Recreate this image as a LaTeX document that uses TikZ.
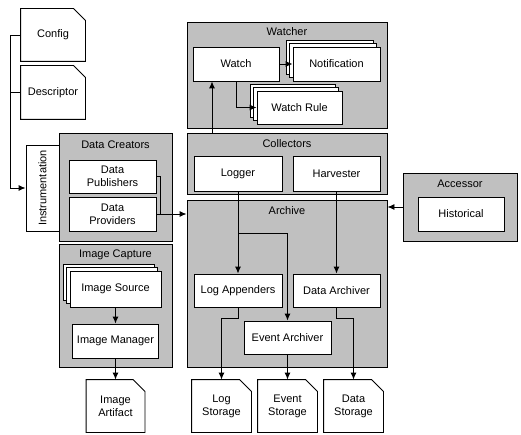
\documentclass[tikz,border=0pt]{standalone}
\usepackage{fontspec}
\setmainfont{Liberation Sans}
\usetikzlibrary{arrows.meta,%
                shapes,shadows,positioning}
\definecolor{panelgray}{RGB}{192,192,192}
\newcommand{\Doc}[5][]{%
  \node[doc,#1] (#2) at (#3,#4) {#5};
  \draw (#2.north west) -- ([xshift=-12pt]#2.north east) -- ([yshift=-12pt]#2.north east)
        -- (#2.south east) -- (#2.south west) -- cycle;
}

\begin{document}
\begin{tikzpicture}[x=1pt,y=-1pt,line width=0.9pt,
  every node/.style={font=\fontsize{11}{13}\selectfont},
  panel/.style={draw,fill=panelgray,inner sep=0pt},
  box/.style={draw,fill=white,align=center,inner sep=0pt},
  stack/.style={box,
    copy shadow={shadow xshift=-6.6pt,shadow yshift=6.6pt,fill=white,draw=black},
    copy shadow={shadow xshift=-3.3pt,shadow yshift=3.3pt,fill=white,draw=black}},
  doc/.style={align=center,inner sep=0pt,minimum width=59pt,minimum height=52pt},
  arr/.style={-{Latex[length=7pt,width=6pt]}}]
\useasboundingbox (0,0) rectangle (521,435);
%\draw[help lines] (0,0) grid[step=10] (521,435);
\Doc[minimum width=64pt]{config}{53}{35}{Config}
\Doc[minimum width=64pt,minimum height=53pt]{descr}{53}{92.5}{Descriptor}
\node[box,rotate=90,minimum width=86pt,minimum height=33pt] (instr) at (42.5,188) {Instrumentation};

\node[panel,minimum width=113pt,minimum height=108pt] (creators) at (115.5,187) {};
\node (creatorsT) at (115.5,145) {Data Creators};
\node[box,minimum width=87pt,minimum height=33pt] (publishers) at (112.5,176.5) {Data\\Publishers};
\node[box,minimum width=87pt,minimum height=34pt] (providers) at (112.5,214) {Data\\Providers};

\node[panel,minimum width=113pt,minimum height=123pt] (capture) at (115.5,305.5) {};
\node (captureT) at (115.5,255) {Image Capture};
\node[stack,minimum width=91pt,minimum height=36pt] (source) at (115.5,289) {Image Source};
\node[box,minimum width=86pt,minimum height=34pt] (manager) at (115.5,341) {Image Manager};
\Doc[minimum width=58pt]{artifact}{115.5}{406}{Image\\Artifact}

\node[panel,minimum width=200pt,minimum height=106pt] (watcher) at (287,75) {};
\node (watcherT) at (287,32) {Watcher};
\node[box,minimum width=86pt,minimum height=34pt] (watch) at (236,64) {Watch};
\node[stack,minimum width=87pt,minimum height=34pt] (notify) at (336.5,64) {Notification};
\node[stack,minimum width=85pt,minimum height=33pt] (rule) at (299.5,107.5) {Watch Rule};

\node[panel,minimum width=200pt,minimum height=61pt] (collectors) at (287,163.5) {};
\node (collectorsT) at (287,144) {Collectors};
\node[box,minimum width=88pt,minimum height=35pt] (logger) at (238,173.5) {Logger};
\node[box,minimum width=87pt,minimum height=35pt] (harvester) at (336.5,173.5) {Harvester};

\node[panel,minimum width=200pt,minimum height=167pt] (archive) at (287,283.5) {};
\node (archiveT) at (287,211) {Archive};
\node[box,minimum width=88pt,minimum height=33pt] (appenders) at (238,290.5) {Log Appenders};
\node[box,minimum width=87pt,minimum height=33pt] (dataarch) at (336.5,290.5) {Data Archiver};
\node[box,minimum width=87pt,minimum height=33pt] (eventarch) at (287.5,337.5) {Event Archiver};
\Doc{logstore}{221.5}{406}{Log\\Storage}
\Doc{eventstore}{287.5}{406}{Event\\Storage}
\Doc{datastore}{353.5}{406}{Data\\Storage}

\node[panel,minimum width=114pt,minimum height=68pt] (accessor) at (460,207) {};
\node (accessorT) at (460,184) {Accessor};
\node[box,minimum width=86pt,minimum height=34pt] (historical) at (461,214) {Historical};

\coordinate (bus) at (10,0);
\coordinate (join) at (160,214);
\coordinate (split) at (238,233);

\draw[arr] (config.west) -| (bus |- instr.north) -- (instr.north);
\draw (descr.west) -- (bus |- descr.west);
\draw (publishers.east) -| (join);
\draw[arr] (providers.east) -- (providers.east -| archive.west);
\draw[arr] (accessor.west) -- (accessor.west -| archive.east);

\draw[arr] ([xshift=-24pt]watch.south |- collectors.north) -- ([xshift=-24pt]watch.south);
\draw[arr] (watch.east) -- (notify.west);
\draw[arr] (watch.south) |- (rule.west);

\draw[arr] (logger.south) -- (appenders.north);
\draw[arr] (split) -| (eventarch.north);
\draw[arr] (harvester.south) -- (dataarch.north);
\draw[arr] (appenders.south) -- ++(0,11) -| (logstore.north);
\draw[arr] (eventarch.south) -- (eventstore.north);
\draw[arr] (dataarch.south) -- ++(0,11) -| (datastore.north);

\draw[arr] (source.south) -- (manager.north);
\draw[arr] (manager.south) -- (artifact.north);

\end{tikzpicture}
\end{document}
